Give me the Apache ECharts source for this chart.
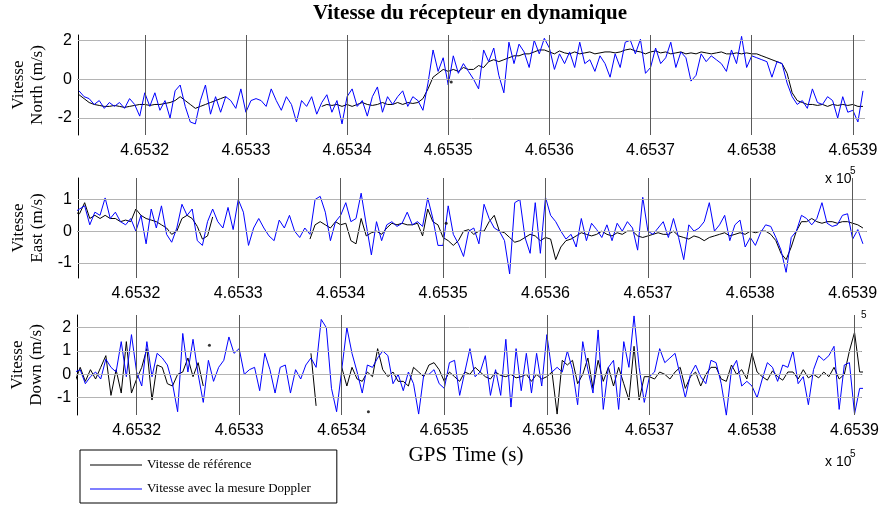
<!DOCTYPE html>
<html>
<head>
<meta charset="utf-8">
<script src="https://cdn.jsdelivr.net/npm/echarts@6/dist/echarts.min.js"></script>
<style>
  html, body { margin: 0; padding: 0; background: #fff; }
  #chart { width: 882px; height: 507px; }
</style>
</head>
<body>
<div id="chart"></div>
<script>
// samples every 0.5 s from t0 (GPS time, s)
const t0 = 465313.5;
const dt = 0.5;
const xTicks = [465320, 465330, 465340, 465350, 465360, 465370, 465380, 465390];

// North
const northRef = [
  -0.8,-1.0,-1.2,-1.3,-1.35,-1.4,-1.4,-1.35,-1.4,-1.45,-1.4,-1.35,-1.3,
  -1.3,-1.35,-1.3,-1.3,-1.25,-1.2,-1.1,-0.9,-1.1,-1.3,-1.5,-1.4,-1.3,-1.2,-1.1,-1.0,-0.9,null,null,null,
  null,null,null,null,null,null,null,null,null,null,null,null,null,null,null,-1.4,-1.3,-1.35,-1.3,-1.4,
  -1.3,-1.4,-1.3,-1.2,-1.3,-1.35,-1.3,-1.2,-1.3,-1.3,-1.2,-1.3,-1.2,-1.25,-1.2,-1.0,-0.5,0.1,0.3,0.5,
  0.4,0.5,0.4,0.6,0.5,0.5,0.7,0.6,0.9,1.0,0.9,1.0,1.1,1.2,1.2,1.3,1.3,1.4,1.5,1.5,
  1.4,1.3,1.45,1.35,1.3,1.4,1.3,1.35,1.4,1.3,1.35,1.4,1.4,1.35,1.4,1.5,1.55,1.45,1.4,1.3,
  1.4,1.45,1.35,1.4,1.3,1.35,1.4,1.3,1.35,1.3,1.4,1.35,1.3,1.35,1.4,1.3,1.3,1.35,1.3,1.35,
  1.3,1.3,1.2,1.1,1.0,0.9,0.8,0.3,-0.7,-1.1,-1.2,-1.3,-1.3,-1.35,-1.3,-1.4,-1.3,-1.35,-1.3,-1.35,
  -1.3,-1.4,-1.4
];
const northDop = [
  -0.6,-0.9,-1.0,-1.3,-1.1,-1.5,-1.2,-1.4,-1.2,-1.5,-1.0,-1.3,-1.9,
  -0.7,-1.4,-0.7,-1.6,-1.1,-2.0,-0.6,-0.3,-1.4,-2.2,-2.3,-1.1,-0.3,-1.8,-0.9,-1.7,-0.9,-1.1,-1.5,-0.5,
  -1.7,-1.1,-1.0,-1.1,-1.4,-0.5,-1.1,-1.6,-0.9,-1.3,-2.2,-1.1,-1.4,-0.9,-1.8,-1.2,-0.8,-1.7,-1.1,-2.3,
  -0.9,-0.5,-1.4,-1.1,-1.9,-0.9,-0.4,-1.7,-0.9,-1.3,-0.9,-0.6,-1.4,-0.9,-1.1,-1.6,-0.2,1.5,0.4,1.1,
  -0.3,1.2,0.3,0.8,0.4,0.0,-0.5,1.5,0.9,1.6,0.2,-0.7,1.9,0.8,1.8,1.4,0.6,2.0,1.3,2.1,
  1.6,0.5,1.3,0.8,1.4,0.6,1.9,0.8,1.0,0.4,1.2,0.8,0.1,1.3,0.6,1.9,2.0,1.3,2.05,0.3,
  0.6,1.6,0.8,1.1,1.9,0.6,1.4,1.1,-0.1,0.2,1.3,0.9,1.2,1.0,0.8,0.4,1.5,0.8,2.2,0.6,
  1.2,1.1,1.0,0.9,0.1,0.9,0.8,-0.2,-0.9,-1.3,-1.1,-1.5,-0.5,-1.2,-1.3,-0.9,-1.1,-2.0,-0.9,-1.7,
  -1.6,-2.2,-0.6
];
const northDots = [[465350.3, -0.15]];

// East
const eastRef = [
  0.6,0.6,0.55,0.9,0.4,0.5,0.4,0.5,0.4,0.4,0.3,0.35,0.3,
  0.7,0.5,0.4,0.35,0.3,0.2,0.1,-0.1,0.0,0.4,0.5,0.4,0.15,-0.25,-0.15,0.45,null,null,null,null,
  null,null,null,null,null,null,null,null,null,null,null,null,null,null,-0.25,0.2,0.3,0.2,0.1,0.3,
  0.2,0.25,-0.3,-0.4,0.4,-0.15,-0.05,0.0,-0.1,0.1,0.25,0.2,0.25,0.2,0.2,0.25,-0.15,0.7,0.3,0.2,
  -0.2,-0.3,-0.45,-0.3,0.0,0.05,-0.1,0.0,0.0,0.3,0.5,0.0,-0.05,-0.2,-0.35,-0.3,-0.2,-0.1,-0.15,-0.3,
  -0.2,-0.25,-0.9,-0.5,-0.3,-0.25,-0.15,-0.05,-0.1,-0.15,-0.1,0.0,-0.1,-0.15,-0.05,-0.1,0.0,0.0,-0.15,-0.2,
  -0.15,-0.1,-0.05,-0.1,-0.1,0.0,-0.15,-0.2,-0.25,-0.15,-0.2,-0.3,-0.2,-0.15,-0.1,-0.05,-0.15,-0.1,-0.05,-0.1,
  0.0,-0.05,0.0,0.0,-0.1,-0.3,-0.7,-0.9,-0.5,0.0,0.3,0.3,0.4,0.3,0.25,0.3,0.3,0.25,0.3,0.3,
  0.25,0.2,0.1
];
const eastDop = [
  0.6,0.6,0.7,0.8,0.2,0.6,0.5,1.05,0.4,0.6,0.3,0.2,0.4,
  0.0,0.5,-0.4,0.7,0.1,0.8,-0.1,-0.35,0.1,0.85,0.5,0.7,-0.3,-0.45,0.3,0.7,0.3,0.1,0.75,0.05,
  1.0,0.6,-0.45,0.1,0.4,0.1,-0.15,-0.3,0.35,0.1,0.5,0.0,-0.2,0.1,-0.1,1.0,1.1,0.6,-0.3,0.3,
  0.5,0.9,0.3,0.4,1.2,0.2,-0.75,0.3,-0.3,0.2,0.3,0.15,0.25,0.6,0.2,0.3,0.15,1.05,0.4,-0.45,
  -0.45,0.8,-0.1,-0.4,-0.8,0.0,0.1,-0.4,0.85,0.4,0.1,0.0,-0.3,-1.35,0.9,1.0,-0.2,-0.7,0.9,-0.7,
  1.07,0.5,0.3,0.0,-0.25,-0.1,-0.5,0.4,-0.3,0.25,0.05,-0.2,0.2,-0.3,0.25,0.0,0.3,0.1,-0.6,1.07,
  0.0,-0.1,0.1,0.3,-0.2,0.4,-0.2,-0.9,0.2,0.0,0.1,0.3,0.9,0.0,0.2,0.5,-0.3,0.2,0.35,-0.5,
  -0.2,-0.45,-0.05,0.2,0.15,-0.2,-0.6,-1.3,-0.2,0.0,0.5,0.4,0.2,0.4,0.9,0.25,0.15,0.2,0.5,0.55,
  -0.25,0.05,-0.4
];
const eastDots = [[465350.3, 0.25]];

// Down
const downRef = [
  0.2,-0.3,0.3,-0.3,0.2,-0.2,0.3,0.8,-0.9,0.2,-0.8,1.4,-0.8,
  -0.2,0.3,1.1,-1.1,0.4,0.3,-0.4,-0.5,0.0,0.1,0.7,-0.1,0.5,-0.5,null,null,null,null,null,null,
  null,null,null,null,null,null,null,null,null,null,null,null,null,null,0.9,-1.35,null,null,null,null,
  0.3,-0.5,0.3,-0.2,-0.3,0.1,-0.1,1.1,0.2,-0.1,0.1,-0.3,-0.3,-0.5,0.3,0.1,-0.1,0.4,0.5,0.2,
  -0.3,0.1,-0.1,-0.3,0.1,0.0,0.3,0.1,-0.1,-0.2,0.1,-0.05,-0.1,0.0,-0.15,-0.1,0.0,-0.3,0.0,-0.2,
  -0.1,0.1,-1.7,0.6,0.4,0.6,-0.4,0.0,0.7,-0.6,0.6,-0.3,0.3,-0.5,0.3,-0.4,-1.1,1.2,-1.1,-0.1,
  -0.1,-0.2,0.1,0.0,-0.2,0.1,0.3,-0.6,-0.1,0.1,-0.5,0.0,0.3,0.3,-0.2,-0.3,0.4,0.0,0.2,-0.2,
  0.9,0.1,-0.1,-0.25,0.15,-0.1,-0.25,0.1,0.1,-0.2,0.2,-0.15,0.0,-0.15,0.1,-0.1,0.3,-0.2,0.0,1.0,
  1.8,0.1,0.1
];
const downDop = [
  0.1,0.1,0.2,-0.4,-0.1,0.1,-0.2,0.65,0.3,0.1,1.4,-0.1,1.7,
  0.1,-0.5,1.4,-0.1,0.9,0.7,0.4,-0.4,-1.6,1.75,0.1,1.5,0.0,-1.2,0.6,-0.3,0.3,0.6,1.6,0.9,
  1.1,0.0,0.2,0.3,-0.7,0.9,0.2,-0.8,0.3,0.4,-0.8,0.2,-0.2,0.4,0.7,0.3,2.35,2.0,-0.6,-1.6,
  0.2,2.0,0.9,0.1,-0.8,0.4,0.3,0.7,1.0,0.8,-0.4,0.0,-0.7,0.1,-0.4,-1.7,0.0,0.0,0.2,-0.4,
  -0.6,0.5,0.6,-0.9,0.1,1.1,-0.1,0.1,0.8,-0.9,0.2,-0.9,1.5,-1.4,1.1,-0.7,0.9,-0.8,0.9,-0.5,
  1.7,0.1,0.3,0.1,1.0,0.2,-1.3,1.4,0.2,-0.8,1.9,-1.5,0.3,0.6,-1.5,1.4,0.3,2.5,0.3,-1.2,
  -0.1,0.1,1.1,0.5,0.7,0.9,-0.05,-1.0,0.0,0.4,-0.1,-0.4,0.6,0.5,-0.4,-1.75,0.2,0.6,-0.5,-0.3,
  -0.5,-1.0,-0.2,0.5,0.3,-0.3,0.4,0.3,1.0,-0.4,-0.1,-1.3,0.2,0.8,0.6,0.8,1.2,-1.5,0.4,0.5,
  -1.7,-0.6,-0.6
];
const downDots = [[465327.1, 1.25], [465342.6, -1.6]];

const panels = [
  { name: 'Vitesse\nNorth (m/s)', ref: northRef, dop: northDop, dots: northDots,
    grid: { left: 78, top: 35, width: 787, height: 100 },
    xMin: 465313.4, xMax: 465391.2, yMin: -2.87, yMax: 2.27, yTicks: [-2, 0, 2] },
  { name: 'Vitesse\nEast (m/s)', ref: eastRef, dop: eastDop, dots: eastDots,
    grid: { left: 78, top: 178, width: 788, height: 100 },
    xMin: 465314.35, xMax: 465391.3, yMin: -1.48, yMax: 1.68, yTicks: [-1, 0, 1] },
  { name: 'Vitesse\nDown (m/s)', ref: downRef, dop: downDop, dots: downDots,
    grid: { left: 76, top: 315, width: 787, height: 100 },
    xMin: 465314.2, xMax: 465390.7, yMin: -1.74, yMax: 2.54, yTicks: [-1, 0, 1, 2] }
];

const REF = 'Vitesse de référence';
const DOP = 'Vitesse avec la mesure Doppler';
const sans = 'Liberation Sans, Arial, sans-serif';
const serif = 'Liberation Serif, Times New Roman, serif';

function pairs(vals) {
  return vals.map((v, i) => [t0 + i * dt, v === null ? '-' : v]);
}

const grid = [], xAxis = [], yAxis = [], series = [];
panels.forEach((p, k) => {
  grid.push(p.grid);
  // bottom axis
  xAxis.push({
    type: 'value', gridIndex: k, min: p.xMin, max: p.xMax, position: 'bottom',
    axisLine: { show: true, lineStyle: { color: '#000', width: 1 } },
    axisTick: { show: true, inside: true, length: 4, customValues: xTicks, lineStyle: { color: '#000' } },
    axisLabel: { show: true, customValues: xTicks, margin: 8, color: '#000', fontSize: 16, fontFamily: sans,
      formatter: v => (v / 1e5).toFixed(4) },
    splitLine: { show: false }
  });
  // top ticks only
  xAxis.push({
    type: 'value', gridIndex: k, min: p.xMin, max: p.xMax, position: 'top',
    axisLine: { show: false },
    axisTick: { show: true, inside: true, length: 4, customValues: xTicks, lineStyle: { color: '#000' } },
    axisLabel: { show: false },
    splitLine: { show: false }
  });
  yAxis.push({
    type: 'value', gridIndex: k, min: p.yMin, max: p.yMax, position: 'left',
    name: p.name, nameLocation: 'middle', nameGap: 30, nameRotate: 90,
    nameTextStyle: { fontFamily: serif, fontSize: 17, color: '#000', lineHeight: 19 },
    axisLine: { show: true, lineStyle: { color: '#000', width: 1 } },
    axisTick: { show: true, inside: true, length: 5, customValues: p.yTicks, lineStyle: { color: '#000' } },
    axisLabel: { show: true, customValues: p.yTicks, margin: 6, color: '#000', fontSize: 16, fontFamily: sans },
    splitLine: { show: false }
  });
  yAxis.push({
    type: 'value', gridIndex: k, min: p.yMin, max: p.yMax, position: 'right',
    axisLine: { show: false },
    axisTick: { show: true, inside: true, length: 4, customValues: p.yTicks, lineStyle: { color: '#000' } },
    axisLabel: { show: false },
    splitLine: { show: false }
  });

  // grid lines
  series.push({
    type: 'line', xAxisIndex: 2 * k, yAxisIndex: 2 * k, data: [], z: 1, silent: true,
    markLine: {
      silent: true, symbol: ['none', 'none'], label: { show: false }, animation: false,
      data: [
        ...p.yTicks.map(v => ({ yAxis: v, lineStyle: { color: '#b4b4b4', width: 1, type: 'solid' } })),
        ...xTicks.map(v => ({ xAxis: v, lineStyle: { color: '#5a5a5a', width: 1, type: 'solid' } }))
      ]
    }
  });
  series.push({
    name: REF, type: 'line', xAxisIndex: 2 * k, yAxisIndex: 2 * k, data: pairs(p.ref),
    symbol: 'none', showSymbol: false, z: 2, lineStyle: { color: '#000', width: 1 }, itemStyle: { color: '#000' }
  });
  series.push({
    name: DOP, type: 'line', xAxisIndex: 2 * k, yAxisIndex: 2 * k, data: pairs(p.dop),
    symbol: 'none', showSymbol: false, z: 3, lineStyle: { color: '#0000ff', width: 1 }, itemStyle: { color: '#0000ff' }
  });
  series.push({
    name: 'dots', type: 'scatter', xAxisIndex: 2 * k, yAxisIndex: 2 * k, data: p.dots,
    symbolSize: 3, z: 4, itemStyle: { color: '#000' }
  });
});

const chart = echarts.init(document.getElementById('chart'));
chart.setOption({
  animation: false,
  backgroundColor: '#fff',
  grid: grid,
  xAxis: xAxis,
  yAxis: yAxis,
  series: series,
  legend: {
    data: [REF, DOP], orient: 'vertical', left: 80, top: 450,
    icon: 'rect', itemWidth: 52, itemHeight: 1, itemGap: 10,
    padding: [8, 26, 7, 10],
    borderColor: '#000', borderWidth: 1, backgroundColor: '#fff',
    textStyle: { fontFamily: serif, fontSize: 13, color: '#000', lineHeight: 14 }
  },
  graphic: [
    { type: 'text', x: 470, y: 14, style: { text: 'Vitesse du récepteur en dynamique',
      font: 'bold 21px ' + serif, fill: '#000', textAlign: 'center', textVerticalAlign: 'middle' } },
    { type: 'text', x: 466, y: 455, style: { text: 'GPS Time (s)', font: '21px ' + serif, fill: '#000',
      textAlign: 'center', textVerticalAlign: 'middle' } },
    { type: 'text', x: 825, y: 172, style: { text: 'x 10', font: '14px ' + sans, fill: '#000' } },
    { type: 'text', x: 850, y: 166, style: { text: '5', font: '10px ' + sans, fill: '#000' } },
    { type: 'text', x: 825, y: 455, style: { text: 'x 10', font: '14px ' + sans, fill: '#000' } },
    { type: 'text', x: 850, y: 449, style: { text: '5', font: '10px ' + sans, fill: '#000' } },
    { type: 'text', x: 861, y: 310, style: { text: '5', font: '10px ' + sans, fill: '#000' } }
  ]
});
</script>
</body>
</html>
